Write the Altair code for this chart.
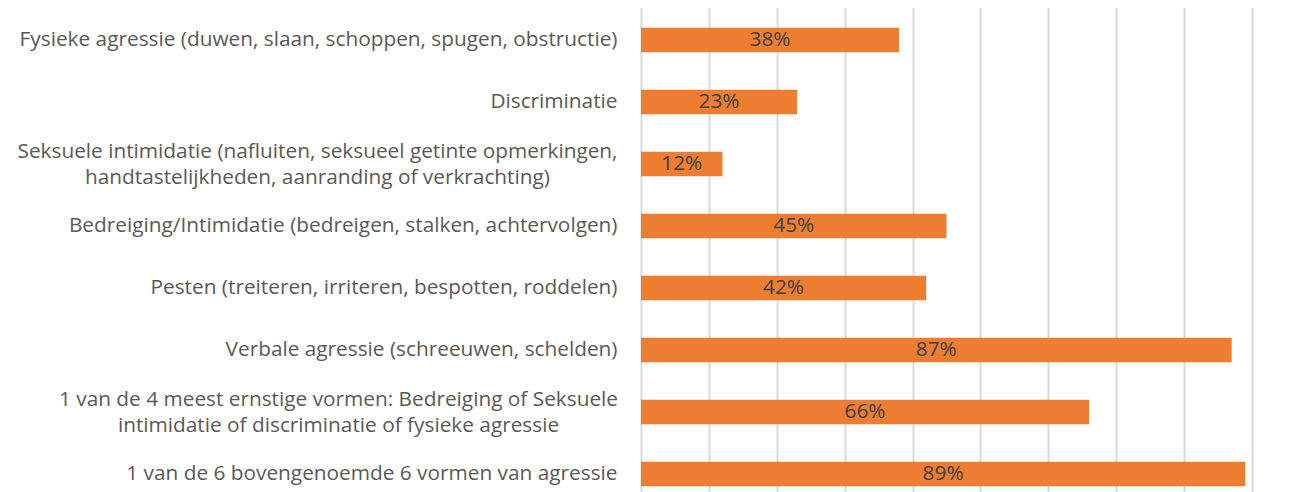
import altair as alt
import pandas as pd

categories = [
    "Fysieke agressie (duwen, slaan, schoppen, spugen, obstructie)",
    "Discriminatie",
    "Seksuele intimidatie (nafluiten, seksueel getinte opmerkingen,\nhandtastelijkheden, aanranding of verkrachting)",
    "Bedreiging/Intimidatie (bedreigen, stalken, achtervolgen)",
    "Pesten (treiteren, irriteren, bespotten, roddelen)",
    "Verbale agressie (schreeuwen, schelden)",
    "1 van de 4 meest ernstige vormen: Bedreiging of Seksuele\nintimidatie of discriminatie of fysieke agressie",
    "1 van de 6 bovengenoemde 6 vormen van agressie",
]
values = [38, 23, 12, 45, 42, 87, 66, 89]
value_labels = ["38%", "23%", "12%", "45%", "42%", "87%", "66%", "89%"]
grid_values = [0, 10, 20, 30, 40, 50, 60, 70, 80, 90]

df = pd.DataFrame({"cat": categories, "val": values, "lab": value_labels})

FONT = "Open Sans"
FS = 20.8

TWO_LINE = "indexof(datum.value, '\\n') >= 0"
ROW3 = "indexof(datum.value, 'Seksuele intimidatie (naf') >= 0"
ROW7 = "indexof(datum.value, '1 van de 4') >= 0"

y_axis = alt.Axis(
    title=None,
    ticks=False,
    domain=False,
    labelFont=FONT,
    labelFontSize=FS,
    labelColor="#595959",
    labelPadding={"condition": [{"test": ROW3, "value": 324}, {"test": ROW7, "value": 303}], "value": 24},
    labelAlign={"condition": {"test": TWO_LINE, "value": "center"}, "value": "right"},
    labelLimit=700,
    labelLineHeight=26,
    labelExpr="split(datum.label, '\\n')",
    labelOffset={"condition": {"test": TWO_LINE, "value": -12}, "value": 0},
    grid=False,
)
y_scale = alt.Scale(paddingInner=0.605, paddingOuter=0.3025, range=[0, 496])

x_scale = alt.Scale(domain=[0, 90], nice=False)
x_axis = alt.Axis(
    title=None,
    labels=False,
    ticks=False,
    domain=False,
    grid=True,
    gridColor="#d9d9d9",
    gridWidth=2,
    values=grid_values,
)

bars = alt.Chart(df).mark_bar(color="#ED7D31").encode(
    y=alt.Y("cat:N", sort=categories, scale=y_scale, axis=y_axis),
    x=alt.X("val:Q", scale=x_scale, axis=x_axis),
)

text = (
    alt.Chart(df)
    .transform_calculate(mid="datum.val / 2")
    .mark_text(font=FONT, fontSize=FS, color="#404040", baseline="middle", align="center")
    .encode(
        y=alt.Y("cat:N", sort=categories, scale=y_scale, axis=y_axis),
        x=alt.X("mid:Q", scale=x_scale, axis=x_axis),
        text="lab:N",
    )
)

chart = (
    alt.layer(bars, text)
    .properties(
        width=611,
        height=483,
        autosize=alt.AutoSizeParams(type="none"),
        padding={"left": 633, "top": 1, "right": 40, "bottom": 0},
    )
    .configure_view(stroke=None)
)

chart.save("out.html", embed_options={"renderer": "svg", "actions": False})
